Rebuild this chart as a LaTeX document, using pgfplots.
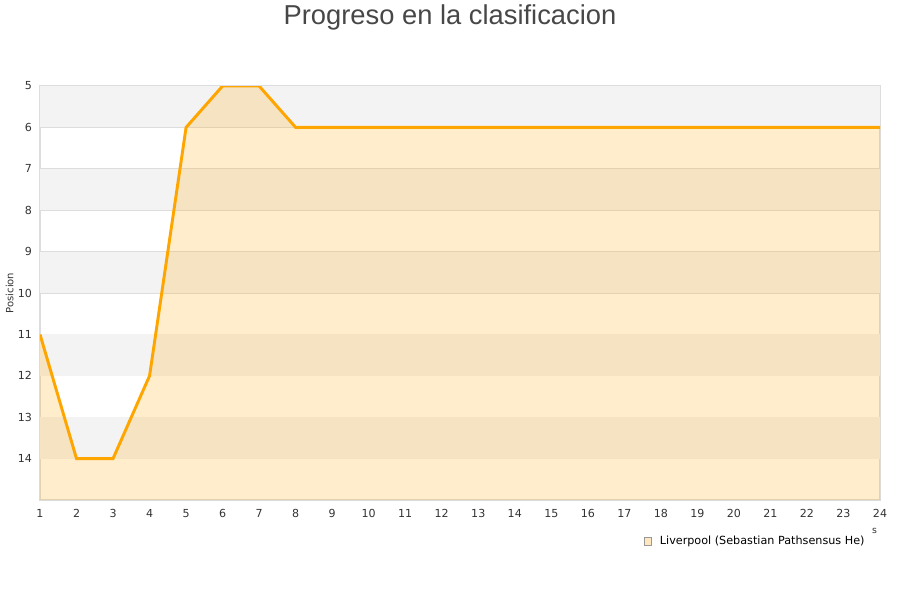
\documentclass[border=0pt]{standalone}
\usepackage{pgfplots}
\pgfplotsset{compat=1.18}
\usepackage{fontspec}
\setmainfont{DejaVu Sans}
\newfontfamily\titlefont{Liberation Sans}
\definecolor{bandgray}{HTML}{F3F3F3}
\definecolor{gridc}{HTML}{DDDDDD}
\definecolor{linec}{HTML}{FFA500}
\definecolor{tickc}{HTML}{333333}
\begin{document}
\begin{tikzpicture}
\path[use as bounding box] (0pt,0pt) rectangle (675pt,450pt);
\node[font=\titlefont\fontsize{20.5}{24}\selectfont, text=tickc!90] at (337.5pt,437pt) {Progreso en la clasificacion};
\begin{axis}[
  at={(30pt,75pt)}, anchor=south west,
  scale only axis, width=630pt, height=310.5pt,
  xmin=1, xmax=24, ymin=5, ymax=15,
  y dir=reverse,
  xtick={1,...,24}, ytick={5,...,14},
  tick style={draw=none},
  ymajorgrids, grid style={gridc, line width=0.6pt},
  axis line style={gridc, line width=0.8pt},
  ticklabel style={font=\fontsize{8.3}{9}\selectfont, text=tickc},
  /pgf/number format/assume math mode=true,
  xticklabel style={yshift=-3.5pt},
  yticklabel style={xshift=-2.5pt},
  ylabel={Posicion}, ylabel style={font=\fontsize{7.5}{9}\selectfont, text=tickc, at={(axis description cs:-0.036,0.5)}, anchor=center},
  legend style={at={(axis description cs:0.714,-0.1)}, anchor=west, draw=none, fill=none, font=\fontsize{8.4}{9}\selectfont},
  legend cell align=left,
  legend image code/.code={\draw[fill=linec!25, draw=gray!80, line width=0.5pt] (0pt,-2.7pt) rectangle (5.4pt,2.7pt);},
  clip=true,
]
\addlegendimage{}
\addlegendentry{\hspace{4pt}Liverpool (Sebastian Pathsensus He)}
\pgfplotsextra{
  \foreach \a in {5,7,9,11,13}{
    \fill[bandgray] (axis cs:1,\a) rectangle (axis cs:24,\a+1);
  }
}
\addplot[draw=none, fill=linec, fill opacity=0.2, forget plot] coordinates {
 (1,15) (1,11) (2,14) (3,14) (4,12) (5,6) (6,5) (7,5) (8,6) (9,6) (10,6) (11,6) (12,6)
 (13,6) (14,6) (15,6) (16,6) (17,6) (18,6) (19,6) (20,6) (21,6) (22,6) (23,6) (24,6) (24,15)
} -- cycle;
\addplot[linec, line width=2.2pt, forget plot] coordinates {
 (1,11) (2,14) (3,14) (4,12) (5,6) (6,5) (7,5) (8,6) (9,6) (10,6) (11,6) (12,6)
 (13,6) (14,6) (15,6) (16,6) (17,6) (18,6) (19,6) (20,6) (21,6) (22,6) (23,6) (24,6)
};
\end{axis}
\node[font=\fontsize{7}{8}\selectfont, text=tickc] at (656pt,51.5pt) {s};
\end{tikzpicture}
\end{document}
